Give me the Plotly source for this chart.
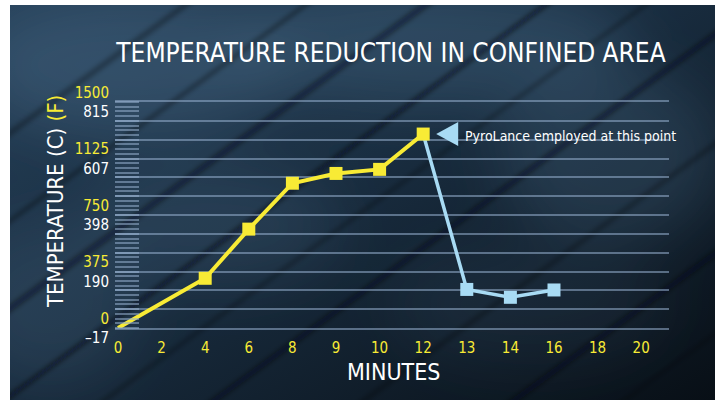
import base64
import numpy as np
import plotly.graph_objects as go

# ---------------- data ----------------
minute_labels = ["0", "2", "4", "6", "8", "9", "10", "12", "13", "14", "16", "18", "20"]

before_minutes = ["0", "4", "6", "8", "9", "10", "12"]
before_temp_c = [-17, 166, 347, 516, 552, 567, 697]

after_minutes = ["12", "13", "14", "16"]
after_temp_c = [697, 125, 96, 123]

tick_c = ["–17", "190", "398", "607", "815"]
tick_f = ["0", "375", "750", "1125", "1500"]
tick_c_values = [-17, 190, 398, 607, 815]

title_text = "TEMPERATURE REDUCTION IN CONFINED AREA"
note_text = "PyroLance employed at this point"

# ---------------- styling ----------------
YELLOW = "#f8eb35"
BLUE = "#a8dbf4"
GRID = "rgba(150,175,205,0.55)"
FONT = "DejaVu Sans Condensed, Liberation Sans Narrow, Roboto, sans-serif"

W, H = 725, 402
L, R, T, B = 115, 56, 102, 74
PW, PH = W - L - R, H - T - B

pos = {m: i for i, m in enumerate(minute_labels)}
xb = [pos[m] for m in before_minutes]
xa = [pos[m] for m in after_minutes]

# y ticks: 13 grid lines, labels every third
grid_vals = list(np.linspace(tick_c_values[0], tick_c_values[-1], 13))
grid_text = [""] * 13
for k, (c, f) in enumerate(zip(tick_c, tick_f)):
    grid_text[3 * k] = f"<span style='color:{YELLOW}'>{f}</span><br>{c}"
minor_vals = list(np.linspace(tick_c_values[0], tick_c_values[-1], 49))

# background texture (decorative)
BW, BH = 705, 395
streaks = ""
for x0, op, sw in [(-420, 0.35, 5), (-300, 0.5, 3), (-180, 0.45, 6), (-60, 0.6, 4),
                   (40, 0.4, 3), (150, 0.5, 5), (300, 0.35, 4), (450, 0.45, 6), (560, 0.3, 3)]:
    streaks += (f"<line x1='{x0}' y1='{BH + 40}' x2='{x0 + 650}' y2='-40' "
                f"stroke='#04090f' stroke-opacity='{op}' stroke-width='{sw}'/>")
blobs = ""
for cx, cy, rx, ry, op in [(120, 60, 160, 70, 0.3), (420, 40, 200, 60, 0.28),
                           (600, 150, 110, 90, 0.22), (200, 220, 130, 60, 0.18),
                           (40, 300, 90, 80, 0.18), (520, 300, 140, 60, 0.1)]:
    blobs += f"<ellipse cx='{cx}' cy='{cy}' rx='{rx}' ry='{ry}' fill='#5a82a3' fill-opacity='{op}'/>"
svg = f"""<svg xmlns='http://www.w3.org/2000/svg' width='{BW}' height='{BH}' viewBox='0 0 {BW} {BH}'>
<defs>
<linearGradient id='g' x1='0' y1='0' x2='1' y2='1'>
<stop offset='0' stop-color='#253f57'/>
<stop offset='0.45' stop-color='#192d40'/>
<stop offset='1' stop-color='#080f16'/>
</linearGradient>
<filter id='b1' x='-20%' y='-20%' width='140%' height='140%'><feGaussianBlur stdDeviation='2.5'/></filter>
<filter id='b2' x='-50%' y='-50%' width='200%' height='200%'><feGaussianBlur stdDeviation='30'/></filter>
</defs>
<rect width='{BW}' height='{BH}' fill='url(#g)'/>
<g filter='url(#b2)'>{blobs}</g>
<g filter='url(#b1)'>{streaks}</g>
</svg>"""
bg_src = "data:image/svg+xml;base64," + base64.b64encode(svg.encode()).decode()

fig = go.Figure()

fig.add_trace(go.Scatter(
    x=xa, y=after_temp_c, mode="lines+markers",
    line=dict(color=BLUE, width=3.5),
    marker=dict(symbol="square", size=[0] + [13] * (len(xa) - 1), color=BLUE,
                opacity=1, line=dict(width=0)),
    hoverinfo="skip", showlegend=False, cliponaxis=False,
))
fig.add_trace(go.Scatter(
    x=xb, y=before_temp_c, mode="lines+markers",
    line=dict(color=YELLOW, width=4),
    marker=dict(symbol="square", size=[0] + [13] * (len(xb) - 1), color=YELLOW,
                opacity=1, line=dict(width=0)),
    hoverinfo="skip", showlegend=False, cliponaxis=False,
))

peak_x = pos["12"]
peak_y = before_temp_c[-1]

# triangle pointer next to the peak
fig.add_shape(
    type="path", xref="x", yref="y", xsizemode="pixel", ysizemode="pixel",
    xanchor=peak_x, yanchor=peak_y,
    path="M 13,0 L 35,12 L 35,-12 Z",
    fillcolor=BLUE, line=dict(width=0),
)
fig.add_annotation(
    x=peak_x, y=peak_y, xref="x", yref="y", xanchor="left", yanchor="middle",
    xshift=40, yshift=-2, showarrow=False, text=note_text,
    font=dict(family=FONT, size=14, color="white"),
)

fig.add_annotation(
    x=(55 - L) / PW, y=(T + PH - 202) / PH, xref="paper", yref="paper",
    xanchor="center", yanchor="middle", textangle=-90, showarrow=False,
    text=f"TEMPERATURE (C) <span style='color:{YELLOW}'>(F)</span>",
    font=dict(family=FONT, size=22, color="white"),
)
fig.add_annotation(
    x=(393 - L) / PW, y=(T + PH - 372) / PH, xref="paper", yref="paper",
    xanchor="center", yanchor="middle", showarrow=False, text="MINUTES",
    font=dict(family=FONT, size=23, color="white"),
)

fig.add_layout_image(dict(
    source=bg_src, xref="paper", yref="paper",
    x=(10 - L) / PW, y=(T + PH - 5) / PH, sizex=BW / PW, sizey=BH / PH,
    xanchor="left", yanchor="top", sizing="stretch", layer="below",
))

fig.update_layout(
    width=W, height=H,
    margin=dict(l=L, r=R, t=T, b=B, autoexpand=False),
    paper_bgcolor="white", plot_bgcolor="rgba(0,0,0,0)",
    title=dict(text=title_text, x=391 / W, xanchor="center", y=1 - 53 / H, yanchor="middle",
               font=dict(family=FONT, size=26, color="white")),
    xaxis=dict(
        range=[-0.069, 12.638], tickmode="array", tickvals=list(range(len(minute_labels))),
        ticktext=minute_labels, showgrid=False, zeroline=False,
        showline=True, mirror=True, linecolor=GRID, linewidth=1.5,
        ticks="", tickfont=dict(family=FONT, size=15, color=YELLOW), fixedrange=True,
        automargin=False, ticklabelstandoff=5,
    ),
    yaxis=dict(
        range=[tick_c_values[0], tick_c_values[-1]], tickmode="array",
        tickvals=grid_vals, ticktext=grid_text, showgrid=True, gridcolor=GRID, gridwidth=1.5,
        zeroline=False, showline=False, ticks="",
        tickfont=dict(family=FONT, size=15, color="white"),
        minor=dict(tickmode="array", tickvals=minor_vals, ticks="inside", ticklen=24,
                   tickwidth=1.5, tickcolor=GRID, showgrid=False),
        fixedrange=True, automargin=False, ticklabelstandoff=5,
    ),
)

fig.write_html(
    "out.html",
    config={"displayModeBar": False},
    post_script="document.body.style.margin='0';document.body.style.overflow='hidden';",
)
